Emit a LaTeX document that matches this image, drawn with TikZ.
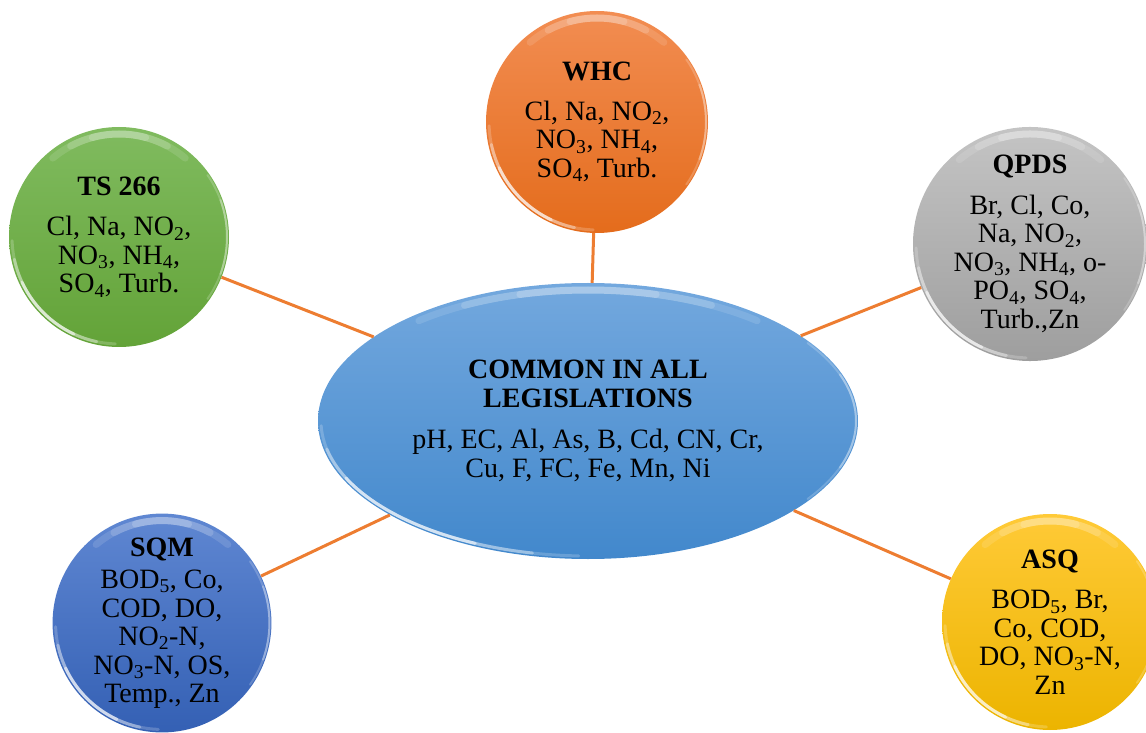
\documentclass[tikz,border=0pt]{standalone}
\usepackage{fontspec}
\setmainfont{Liberation Serif}
\usetikzlibrary{shapes.geometric,calc}
\newcommand\sbs[1]{\textsubscript{#1}}
\definecolor{lineor}{HTML}{ED7D31}
\definecolor{orT}{RGB}{242,141,82}\definecolor{orB}{RGB}{228,108,28}
\definecolor{grT}{RGB}{128,187,95}\definecolor{grB}{RGB}{99,163,56}
\definecolor{gyT}{RGB}{196,196,196}\definecolor{gyB}{RGB}{158,158,158}
\definecolor{blT}{RGB}{95,135,210}\definecolor{blB}{RGB}{52,96,180}
\definecolor{ydT}{RGB}{255,202,55}\definecolor{ydB}{RGB}{236,180,0}
\definecolor{elT}{RGB}{115,168,222}\definecolor{elB}{RGB}{66,136,204}
\tikzset{
  gloss/.style={path picture={
    \foreach \a/\b/\o in {75/105/.18,62/118/.16,50/130/.12}{
      \draw[white, opacity=\o, line width=7pt, line cap=round]
        let \p1=($(path picture bounding box.north east)-(path picture bounding box.center)$)
        in ($(path picture bounding box.center)+(\a:{\x1-7pt} and {\y1-7pt})$)
        arc[start angle=\a, end angle=\b, x radius=\x1-7pt, y radius=\y1-7pt];
    }
    \foreach \a/\b/\o in {205/245/.55,192/258/.35,182/268/.2}{
      \draw[white, opacity=\o, line width=3pt, line cap=round]
        let \p1=($(path picture bounding box.north east)-(path picture bounding box.center)$)
        in ($(path picture bounding box.center)+(\a:{\x1-3pt} and {\y1-3pt})$)
        arc[start angle=\a, end angle=\b, x radius=\x1-3pt, y radius=\y1-3pt];
    }
    \foreach \a/\b/\o in {-20/20/.3,-35/35/.2}{
      \draw[white, opacity=\o, line width=2pt, line cap=round]
        let \p1=($(path picture bounding box.north east)-(path picture bounding box.center)$)
        in ($(path picture bounding box.center)+(\a:{\x1-2pt} and {\y1-2pt})$)
        arc[start angle=\a, end angle=\b, x radius=\x1-2pt, y radius=\y1-2pt];
    }
  }},
}
\begin{document}
\begin{tikzpicture}[x=1pt,y=1pt,
  txt/.style={font=\fontsize{28}{28.5}\selectfont, align=center, text=black},
  bubble/.style={circle, inner sep=0pt, minimum size=#1, txt, gloss},
  conn/.style={draw=lineor, line width=3pt},
]
\clip (0,0) rectangle (1146,732);
\useasboundingbox (0,0) rectangle (1146,732);

\node[ellipse, minimum width=540pt, minimum height=276pt, inner sep=0pt,
      top color=elT, bottom color=elB, txt, gloss] (c) at (588,311)
  {\textbf{COMMON IN ALL}\\\textbf{LEGISLATIONS}\\[13pt]pH, EC, Al, As, B, Cd, CN, Cr,\\Cu, F, FC, Fe, Mn, Ni};

\node[bubble=222pt, top color=orT, bottom color=orB] (whc) at (597,610)
  {\textbf{WHC}\\[11pt]Cl, Na, NO\sbs{2},\\NO\sbs{3}, NH\sbs{4},\\SO\sbs{4}, Turb.};

\node[bubble=220pt, top color=grT, bottom color=grB] (ts) at (119,495)
  {\textbf{TS 266}\\[12pt]Cl, Na, NO\sbs{2},\\NO\sbs{3}, NH\sbs{4},\\SO\sbs{4}, Turb.};

\node[bubble=220pt, top color=gyT, bottom color=gyB] (qpds) at (1030,488)
  {\textbf{QPDS}\\[12pt]Br, Cl, Co,\\Na, NO\sbs{2},\\NO\sbs{3}, NH\sbs{4}, o-\\PO\sbs{4}, SO\sbs{4},\\Turb.,Zn};

\node[bubble=218pt, top color=blT, bottom color=blB] (sqm) at (162,109)
  {\textbf{SQM}\\[4pt]BOD\sbs{5}, Co,\\COD, DO,\\NO\sbs{2}-N,\\NO\sbs{3}-N, OS,\\Temp., Zn};

\node[bubble=216pt, top color=ydT, bottom color=ydB] (asq) at (1050,110)
  {\textbf{ASQ}\\[12pt]BOD\sbs{5}, Br,\\Co, COD,\\DO, NO\sbs{3}-N,\\Zn};

\draw[conn] (whc) -- (c);
\draw[conn] (ts) -- (c);
\draw[conn] (qpds) -- (c);
\draw[conn] (sqm) -- (c);
\draw[conn] (asq) -- (c);
\end{tikzpicture}
\end{document}
